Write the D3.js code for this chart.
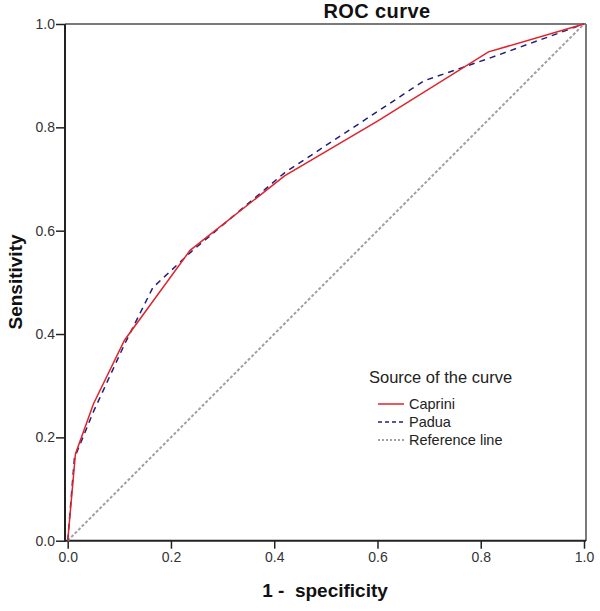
<!DOCTYPE html>
<html><head><meta charset="utf-8">
<script src="https://cdn.jsdelivr.net/npm/d3@7"></script>
<style>body{margin:0;background:#fff}svg{display:block;font-family:"Liberation Sans",Arial,sans-serif}</style>
</head><body>
<svg id="c" width="600" height="611"></svg>
<script>
const capriniX = [0, 0.015, 0.05, 0.11, 0.237, 0.42, 0.6, 0.815, 1];
const capriniY = [0, 0.168, 0.265, 0.388, 0.562, 0.706, 0.812, 0.946, 1];
const paduaX = [0, 0.013, 0.05, 0.11, 0.165, 0.24, 0.42, 0.69, 0.82, 1];
const paduaY = [0, 0.16, 0.25, 0.38, 0.49, 0.56, 0.712, 0.89, 0.935, 1];
const refX = [0, 1];
const refY = [0, 1];
const ticks = [0, 0.2, 0.4, 0.6, 0.8, 1.0];
const seriesNames = ["Caprini", "Padua", "Reference line"];

const svg = d3.select("#c");
const x = d3.scaleLinear().domain([0, 1]).range([67.7, 584]);
const y = d3.scaleLinear().domain([0, 1]).range([540.7, 24]);

// frame
svg.append("line").attr("x1", 65).attr("x2", 586).attr("y1", 24).attr("y2", 24).attr("stroke", "#7a7a7a").attr("stroke-width", 2);
svg.append("line").attr("x1", 586).attr("x2", 586).attr("y1", 24).attr("y2", 541).attr("stroke", "#7a7a7a").attr("stroke-width", 2);

// axes
const xAxis = d3.axisBottom(x).tickValues(ticks).tickFormat(d3.format(".1f")).tickSize(8).tickPadding(3);
const yAxis = d3.axisLeft(y).tickValues(ticks).tickFormat(d3.format(".1f")).tickSize(9).tickPadding(1);
const gx = svg.append("g").attr("transform", "translate(0,540.7)").call(xAxis);
const gy = svg.append("g").attr("transform", "translate(65,0)").call(yAxis);
[gx, gy].forEach(g => {
  g.select(".domain").remove();
  g.selectAll(".tick line").attr("stroke", "#222").attr("stroke-width", 1.5);
  g.selectAll(".tick text").attr("fill", "#333").style("font-size", "14px").style("font-family", "Liberation Sans, Arial, sans-serif");
});
svg.append("line").attr("x1", 65).attr("x2", 586).attr("y1", 540.7).attr("y2", 540.7).attr("stroke", "#222").attr("stroke-width", 2);
svg.append("line").attr("x1", 65).attr("x2", 65).attr("y1", 24).attr("y2", 541.7).attr("stroke", "#222").attr("stroke-width", 2);

const line = d3.line().x(d => x(d[0])).y(d => y(d[1]));
const refData = d3.zip(refX, refY);
const padData = d3.zip(paduaX, paduaY);
const capData = d3.zip(capriniX, capriniY);

svg.append("path").datum(refData).attr("d", line).attr("fill", "none").attr("stroke", "#a0a0a0").attr("stroke-width", 2).attr("stroke-dasharray", "3,2");
svg.append("path").datum(padData).attr("d", line).attr("fill", "none").attr("stroke", "#1f1f7a").attr("stroke-width", 1.5).attr("stroke-dasharray", "6,5");
svg.append("path").datum(capData).attr("d", line).attr("fill", "none").attr("stroke", "#e0232b").attr("stroke-width", 1.5);

// titles
svg.append("text").attr("x", 377).attr("y", 18).attr("text-anchor", "middle").style("font-size", "20px").style("font-weight", "bold").style("letter-spacing", "0.4px").attr("fill", "#111").text("ROC curve");
svg.append("text").attr("x", 325).attr("y", 597).attr("text-anchor", "middle").style("font-size", "19px").style("font-weight", "bold").style("white-space", "pre").attr("fill", "#111").text("1 -  specificity");
svg.append("text").attr("transform", "translate(22,282) rotate(-90)").attr("text-anchor", "middle").style("font-size", "19px").style("font-weight", "bold").attr("fill", "#111").text("Sensitivity");

// legend
const lg = svg.append("g");
lg.append("text").attr("x", 369).attr("y", 383).style("font-size", "16.5px").attr("fill", "#222").text("Source of the curve");
const styles = [
  {stroke: "#e0232b", dash: null, w: 1.5},
  {stroke: "#1f1f7a", dash: "4,3", w: 1.5},
  {stroke: "#a0a0a0", dash: "2,2", w: 2}
];
const ly = [404, 422, 440];
seriesNames.forEach((n, i) => {
  const l = lg.append("line").attr("x1", 378).attr("x2", 404).attr("y1", ly[i]).attr("y2", ly[i]).attr("stroke", styles[i].stroke).attr("stroke-width", styles[i].w);
  if (styles[i].dash) l.attr("stroke-dasharray", styles[i].dash);
  lg.append("text").attr("x", 409).attr("y", ly[i] + 5).style("font-size", "14.5px").attr("fill", "#222").text(n);
});
</script>
</body></html>
